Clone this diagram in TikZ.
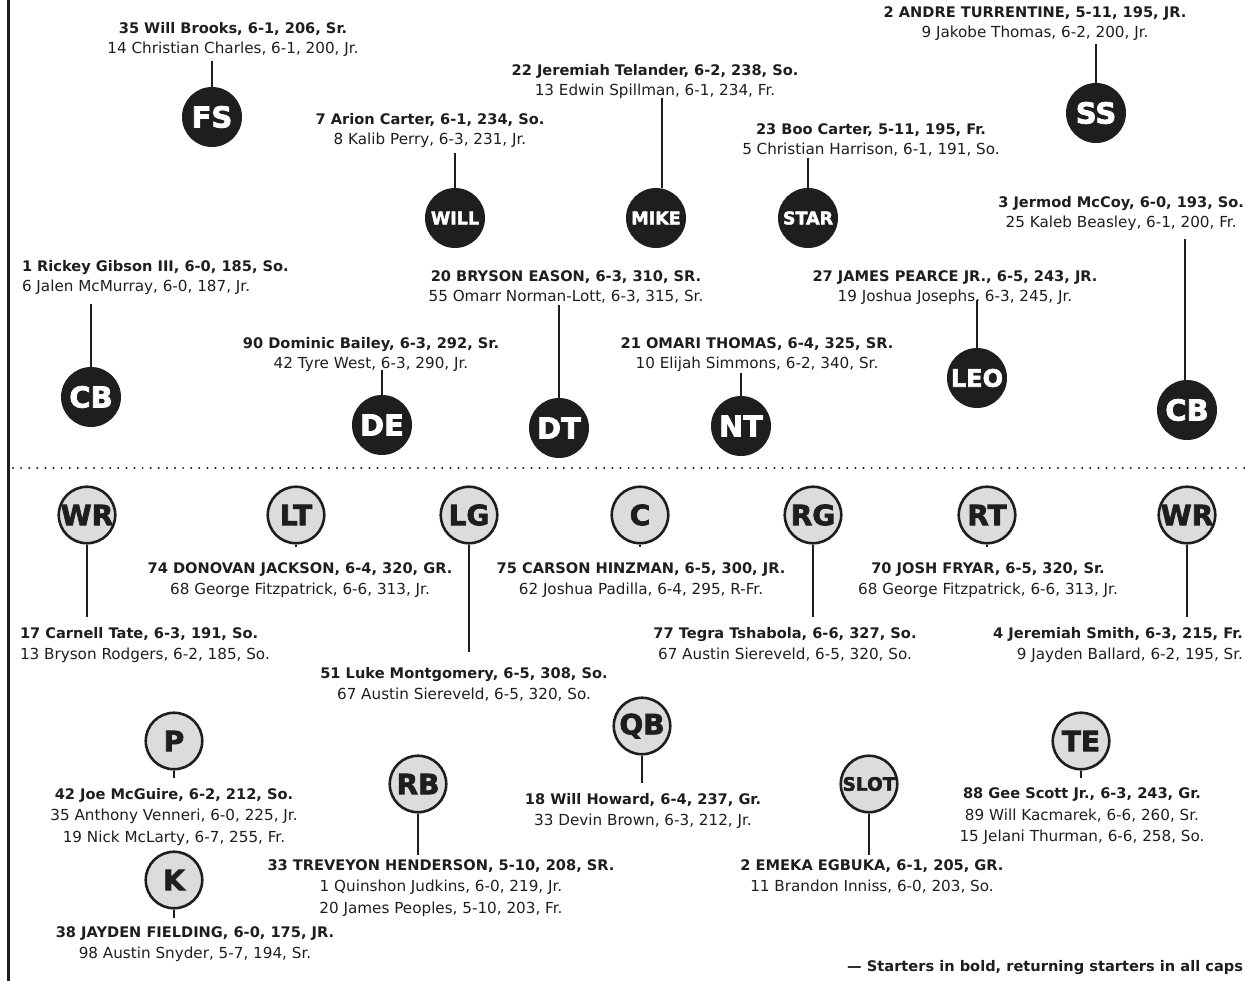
\documentclass[tikz,border=0pt]{standalone}
\usepackage{fontspec}
\setmainfont{DejaVu Sans}
\newfontfamily\posfont{DejaVu Sans}[UprightFont={* Bold}, FakeBold=2.5]
\definecolor{ink}{HTML}{1E1E1E}
\definecolor{fillg}{HTML}{DBDCDE}
\newcommand\strt[1]{{\fontsize{14.6}{20}\selectfont\bfseries #1}}
\begin{document}
\begin{tikzpicture}[x=1pt,y=-1pt,
  dcirc/.style={circle, fill=ink, text=white, minimum size=60pt, inner sep=0pt, font=\posfont\fontsize{29}{29}\selectfont},
  dsmall/.style={dcirc, font=\posfont\fontsize{17.5}{17.5}\selectfont},
  ocirc/.style={circle, draw=ink, line width=2.6pt, fill=fillg, text=ink, minimum size=56.5pt, inner sep=0pt, font=\posfont\fontsize{28}{28}\selectfont},
  txt/.style={align=center, inner sep=0pt, outer sep=0pt, text=ink, font=\fontsize{15.2}{20}\selectfont, anchor=north},
  otxt/.style={txt, font=\fontsize{15.2}{21.5}\selectfont},
  conn/.style={draw=ink, line width=2.6pt}]
\useasboundingbox (0,0) rectangle (1245,981);
\draw[ink, line width=3pt] (8.5,0) -- (8.5,981);
\draw[ink, line width=2.2pt, line cap=round, dash pattern=on 0pt off 8.1pt] (13,468) -- (1245,468);

% ---------------- defense ----------------
\node[dcirc] (fs) at (212,117) {FS};
\node[txt] (fst) at (233,22) {\strt{35 Will Brooks, 6-1, 206, Sr.}\\14 Christian Charles, 6-1, 200, Jr.};
\draw[conn, shorten <=5pt] (fst.south -| fs) -- (fs);

\node[dcirc] (ss) at (1096,113) {SS};
\node[txt] (sst) at (1035,7) {\strt{2 ANDRE TURRENTINE, 5-11, 195, JR.}\\9 Jakobe Thomas, 6-2, 200, Jr.};
\draw[conn, shorten <=3pt] (sst.south -| ss) -- (ss);

\node[dsmall] (will) at (455,218) {WILL};
\node[txt] (willt) at (430,113) {\strt{7 Arion Carter, 6-1, 234, So.}\\8 Kalib Perry, 6-3, 231, Jr.};
\draw[conn, shorten <=6pt] (willt.south -| will) -- (will);

\node[dsmall] (mike) at (656,218) {MIKE};
\node[txt] (miket) at (655,64) {\strt{22 Jeremiah Telander, 6-2, 238, So.}\\13 Edwin Spillman, 6-1, 234, Fr.};
\draw[conn] ([xshift=6pt]miket.south -| mike) -- ([xshift=6pt]mike.north);

\node[dsmall] (star) at (808,218) {STAR};
\node[txt] (start) at (871,124) {\strt{23 Boo Carter, 5-11, 195, Fr.}\\5 Christian Harrison, 6-1, 191, So.};
\draw[conn, shorten <=1pt] (start.south -| star) -- (star);

\node[dcirc] (cbr) at (1187,410) {CB};
\node[txt, anchor=north east] (cbrt) at (1244,196) {\strt{3 Jermod McCoy, 6-0, 193, So.}\\25 Kaleb Beasley, 6-1, 200, Fr.};
\draw[conn, shorten <=9pt] ([xshift=-2pt]cbrt.south -| cbr) -- ([xshift=-2pt]cbr.north);

\node[dcirc] (cbl) at (91,397) {CB};
\node[txt, anchor=north west, align=left] (cblt) at (22,260) {\strt{1 Rickey Gibson III, 6-0, 185, So.}\\6 Jalen McMurray, 6-0, 187, Jr.};
\draw[conn, shorten <=10pt] (cblt.south -| cbl) -- (cbl);

\node[dcirc] (de) at (382,425) {DE};
\node[txt] (det) at (371,337) {\strt{90 Dominic Bailey, 6-3, 292, Sr.}\\42 Tyre West, 6-3, 290, Jr.};
\draw[conn, shorten <=-1pt] (det.south -| de) -- (de);

\node[dcirc] (dt) at (559,428) {DT};
\node[txt] (dtt) at (566,271) {\strt{20 BRYSON EASON, 6-3, 310, SR.}\\55 Omarr Norman-Lott, 6-3, 315, Sr.};
\draw[conn, shorten <=1pt] (dtt.south -| dt) -- (dt);

\node[dcirc] (nt) at (741,426) {NT};
\node[txt] (ntt) at (757,338) {\strt{21 OMARI THOMAS, 6-4, 325, SR.}\\10 Elijah Simmons, 6-2, 340, Sr.};
\draw[conn, shorten <=1pt] (ntt.south -| nt) -- (nt);

\node[dcirc, font=\posfont\fontsize{24}{24}\selectfont] (leo) at (977,378) {LEO};
\node[txt] (leot) at (955,271) {\strt{27 JAMES PEARCE JR., 6-5, 243, JR.}\\19 Joshua Josephs, 6-3, 245, Jr.};
\draw[conn, shorten <=-5pt] (leot.south -| leo) -- (leo);

% ---------------- offense ----------------
\node[ocirc] (wrl) at (87,515) {WR};
\node[otxt, anchor=north west, align=left] (wrlt) at (20,627) {\strt{17 Carnell Tate, 6-3, 191, So.}\\13 Bryson Rodgers, 6-2, 185, So.};
\draw[conn, shorten >=10pt] (wrl) -- (wrlt.north -| wrl);

\node[ocirc] (lt) at (296,515) {LT};
\node[otxt] (ltt) at (300,562.5) {\strt{74 DONOVAN JACKSON, 6-4, 320, GR.}\\68 George Fitzpatrick, 6-6, 313, Jr.};
\draw[conn, shorten >=15.5pt] (lt) -- (ltt.north -| lt);

\node[ocirc] (lg) at (469,515) {LG};
\node[otxt] (lgt) at (464,667) {\strt{51 Luke Montgomery, 6-5, 308, So.}\\67 Austin Siereveld, 6-5, 320, So.};
\draw[conn, shorten >=15pt] (lg) -- (lgt.north -| lg);

\node[ocirc] (c) at (640,515) {C};
\node[otxt] (ct) at (641,562.5) {\strt{75 CARSON HINZMAN, 6-5, 300, JR.}\\62 Joshua Padilla, 6-4, 295, R-Fr.};
\draw[conn, shorten >=15.5pt] (c) -- (ct.north -| c);

\node[ocirc] (rg) at (813,515) {RG};
\node[otxt] (rgt) at (785,627) {\strt{77 Tegra Tshabola, 6-6, 327, So.}\\67 Austin Siereveld, 6-5, 320, So.};
\draw[conn, shorten >=10pt] (rg) -- (rgt.north -| rg);

\node[ocirc] (rt) at (987,515) {RT};
\node[otxt] (rtt) at (988,562.5) {\strt{70 JOSH FRYAR, 6-5, 320, Sr.}\\68 George Fitzpatrick, 6-6, 313, Jr.};
\draw[conn, shorten >=15.5pt] (rt) -- (rtt.north -| rt);

\node[ocirc] (wrr) at (1187,515) {WR};
\node[otxt, anchor=north east, align=right] (wrrt) at (1243,627) {\strt{4 Jeremiah Smith, 6-3, 215, Fr.}\\9 Jayden Ballard, 6-2, 195, Sr.};
\draw[conn, shorten >=10pt] (wrr) -- (wrrt.north -| wrr);

\node[ocirc] (qb) at (642,726) {QB};
\node[otxt] (qbt) at (643,793) {\strt{18 Will Howard, 6-4, 237, Gr.}\\33 Devin Brown, 6-3, 212, Jr.};
\draw[conn, shorten >=10pt] (qb) -- (qbt.north -| qb);

\node[ocirc] (p) at (174,741) {P};
\node[otxt] (pt) at (174,788) {\strt{42 Joe McGuire, 6-2, 212, So.}\\35 Anthony Venneri, 6-0, 225, Jr.\\19 Nick McLarty, 6-7, 255, Fr.};
\draw[conn, shorten >=10pt] (p) -- (pt.north -| p);

\node[ocirc] (k) at (174,880) {K};
\node[otxt] (kt) at (195,926.5) {\strt{38 JAYDEN FIELDING, 6-0, 175, JR.}\\98 Austin Snyder, 5-7, 194, Sr.};
\draw[conn, shorten >=8.5pt] (k) -- (kt.north -| k);

\node[ocirc] (rb) at (418,784) {RB};
\node[otxt] (rbt) at (441,859.5) {\strt{33 TREVEYON HENDERSON, 5-10, 208, SR.}\\1 Quinshon Judkins, 6-0, 219, Jr.\\20 James Peoples, 5-10, 203, Fr.};
\draw[conn, shorten >=4.5pt] (rb) -- (rbt.north -| rb);

\node[ocirc, font=\posfont\fontsize{18.5}{18.5}\selectfont] (slot) at (869,784) {SLOT};
\node[otxt] (slott) at (872,859.5) {\strt{2 EMEKA EGBUKA, 6-1, 205, GR.}\\11 Brandon Inniss, 6-0, 203, So.};
\draw[conn, shorten >=4.5pt] (slot) -- (slott.north -| slot);

\node[ocirc] (te) at (1081,741) {TE};
\node[otxt] (tet) at (1082,788) {\strt{88 Gee Scott Jr., 6-3, 243, Gr.}\\89 Will Kacmarek, 6-6, 260, Sr.\\15 Jelani Thurman, 6-6, 258, So.};
\draw[conn, shorten >=10pt] (te) -- (tet.north -| te);

\node[txt, anchor=north east] (note) at (1243,960) {\strt{— Starters in bold, returning starters in all caps}};
\end{tikzpicture}
\end{document}
